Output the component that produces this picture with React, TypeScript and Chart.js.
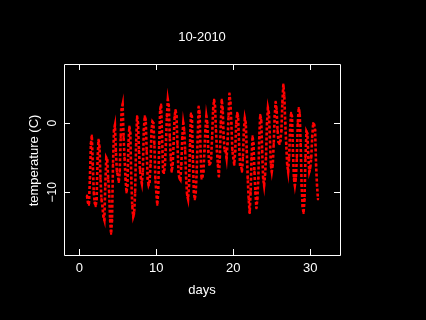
import { useEffect, useRef } from "react";
import { Chart, registerables } from "chart.js";

Chart.register(...registerables);

const title = "10-2010";
const xLabel = "days";
const yLabel = "temperature (C)";
const xTicks = [0, 10, 20, 30];
const xTickLabels = ["0", "10", "20", "30"];
const yTicks = [-10, 0];
const yTickLabels = ["\u221210", "0"];
const hours = [0, 3, 6, 9, 12, 15, 18, 21];

// 3-hourly readings per day of month (October 2010)
const day01 = [-10.5, -11.5, -11.8, -8, -3, -1.8, -6, -10];
const day02 = [-11.5, -12, -11, -5, -2.4, -3.5, -8, -11];
const day03 = [-12, -13.5, -14, -9, -5, -5.3, -8, -10];
const day04 = [-14, -16, -14, -6, -1, -0.3, -4, -7];
const day05 = [-7.5, -8.5, -7, -2, 2, 2.7, -2, -5];
const day06 = [-8, -10, -9, -3, -0.5, -1.5, -8, -12];
const day07 = [-13.5, -13, -10, -3, 1, 0, -4, -6.8];
const day08 = [-8, -8.7, -7, -1, 1, 0.5, -4, -8];
const day09 = [-8.9, -8.5, -6, -1, 0.2, 0, -3, -8];
const day10 = [-10, -11.8, -10, -3, 2, 2.7, -2, -7];
const day11 = [-7.2, -6, -3, 1, 3.4, 2.5, -2, -5];
const day12 = [-7, -6, -3, 1, 1.9, 1, -3, -7];
const day13 = [-8, -8.2, -6, -2, 0, -1, -4, -8];
const day14 = [-10.4, -11, -9, -3, 1.4, 1, -5, -10];
const day15 = [-11, -10, -7, -2, 2.4, 1.5, -4, -8];
const day16 = [-7.7, -7, -4, -1, 1, 0, -4, -6];
const day17 = [-5.8, -5, -2, 2, 3.4, 2.5, -1, -4];
const day18 = [-6, -7.7, -5, 0, 3.4, 2, -2, -4];
const day19 = [-4, -5, -3, 1, 4.3, 3, 0, -3.9];
const day20 = [-5, -6, -4, 0, 1.5, 1, -3, -6];
const day21 = [-6, -7, -5, -1, 0.7, 0, -4, -8];
const day22 = [-11, -13, -10, -5, -1.9, -3, -7, -10];
const day23 = [-12.3, -11, -8, -2, 1.2, 0.5, -4, -8];
const day24 = [-9, -7.5, -5, 0, 2.2, 1.5, -2, -6];
const day25 = [-7, -6, -3, 1, 3.1, 2, -1, -2.7];
const day26 = [-3, -2.5, -1, 3, 5.6, 4, 0, -3];
const day27 = [-6, -7, -5, -1, 1.5, 1, -4, -8];
const day28 = [-9, -8, -5, 0, 2.2, 1.5, -3, -9];
const day29 = [-12, -13, -11, -5, -1.2, -1.5, -5, -7];
const day30 = [-6.5, -5, -2, 0, -0.2, -1, -6, -9];
const day31 = [-11];

const readings = [
  day01, day02, day03, day04, day05, day06, day07, day08, day09, day10,
  day11, day12, day13, day14, day15, day16, day17, day18, day19, day20,
  day21, day22, day23, day24, day25, day26, day27, day28, day29, day30, day31,
];

const FONT = "'Liberation Sans', Arial, Helvetica, sans-serif";

const framePlugin = {
  id: "rframe",
  beforeDraw(chart: any) {
    const ctx = chart.ctx;
    ctx.save();
    ctx.fillStyle = "#000000";
    ctx.fillRect(0, 0, chart.width, chart.height);
    ctx.restore();
  },
  afterDraw(chart: any) {
    const ctx = chart.ctx;
    const { left, right, top, bottom } = chart.chartArea;
    const xs = chart.scales.x;
    const ys = chart.scales.y;
    const tl = 6;
    ctx.save();
    ctx.strokeStyle = "#ffffff";
    ctx.lineWidth = 1;
    ctx.beginPath();
    ctx.rect(Math.round(left) + 0.5, Math.round(top) + 0.5, Math.round(right - left), Math.round(bottom - top));
    ctx.stroke();
    ctx.beginPath();
    xTicks.forEach((v) => {
      const px = Math.round(xs.getPixelForValue(v)) + 0.5;
      ctx.moveTo(px, bottom);
      ctx.lineTo(px, bottom - tl);
      ctx.moveTo(px, top);
      ctx.lineTo(px, top + tl);
    });
    yTicks.forEach((v) => {
      const py = Math.round(ys.getPixelForValue(v)) + 0.5;
      ctx.moveTo(left, py);
      ctx.lineTo(left + tl, py);
      ctx.moveTo(right, py);
      ctx.lineTo(right - tl, py);
    });
    ctx.stroke();

    ctx.fillStyle = "#ffffff";
    ctx.font = `13px ${FONT}`;
    ctx.textAlign = "center";
    ctx.textBaseline = "alphabetic";
    xTicks.forEach((v, i) => {
      ctx.fillText(xTickLabels[i], xs.getPixelForValue(v), 271.5);
    });
    const cx = (left + right) / 2;
    ctx.fillText(xLabel, cx, 294);
    ctx.fillText(title, cx, 41);

    ctx.font = `12px ${FONT}`;
    yTicks.forEach((v, i) => {
      ctx.save();
      ctx.translate(56, ys.getPixelForValue(v));
      ctx.rotate(-Math.PI / 2);
      ctx.fillText(yTickLabels[i], 0, 0);
      ctx.restore();
    });
    ctx.font = `13px ${FONT}`;
    ctx.save();
    ctx.translate(38, (top + bottom) / 2 + 1);
    ctx.rotate(-Math.PI / 2);
    ctx.fillText(yLabel, 0, 0);
    ctx.restore();
    ctx.restore();
  },
};

export default function App() {
  const ref = useRef<HTMLCanvasElement | null>(null);
  useEffect(() => {
    if (!ref.current) return;
    const points: { x: number; y: number }[] = [];
    readings.forEach((vals, d) => {
      vals.forEach((t, k) => {
        points.push({ x: d + 1 + hours[k] / 24, y: t });
      });
    });
    const chart = new Chart(ref.current, {
      type: "scatter",
      data: {
        datasets: [
          {
            data: points,
            showLine: true,
            borderColor: "#ff0000",
            backgroundColor: "#ff0000",
            borderWidth: 2.6,
            borderDash: [3, 2],
            borderCapStyle: "butt",
            pointStyle: "rect",
            pointRadius: 1.5,
            pointBorderWidth: 0,
            pointHoverRadius: 1.5,
          },
        ],
      },
      options: {
        animation: false,
        responsive: false,
        events: [],
        layout: { padding: { left: 64, right: 86, top: 64, bottom: 65 } },
        scales: {
          x: { type: "linear", min: -1.99, max: 33.86, display: false },
          y: { type: "linear", min: -19.09, max: 8.59, display: false },
        },
        plugins: { legend: { display: false }, tooltip: { enabled: false }, title: { display: false } },
      },
      plugins: [framePlugin],
    });
    return () => chart.destroy();
  }, []);
  return (
    <div style={{ position: "fixed", left: 0, top: 0, width: 426, height: 320, background: "#000" }}>
      <canvas ref={ref} width={426} height={320} style={{ display: "block", width: 426, height: 320 }} />
    </div>
  );
}
